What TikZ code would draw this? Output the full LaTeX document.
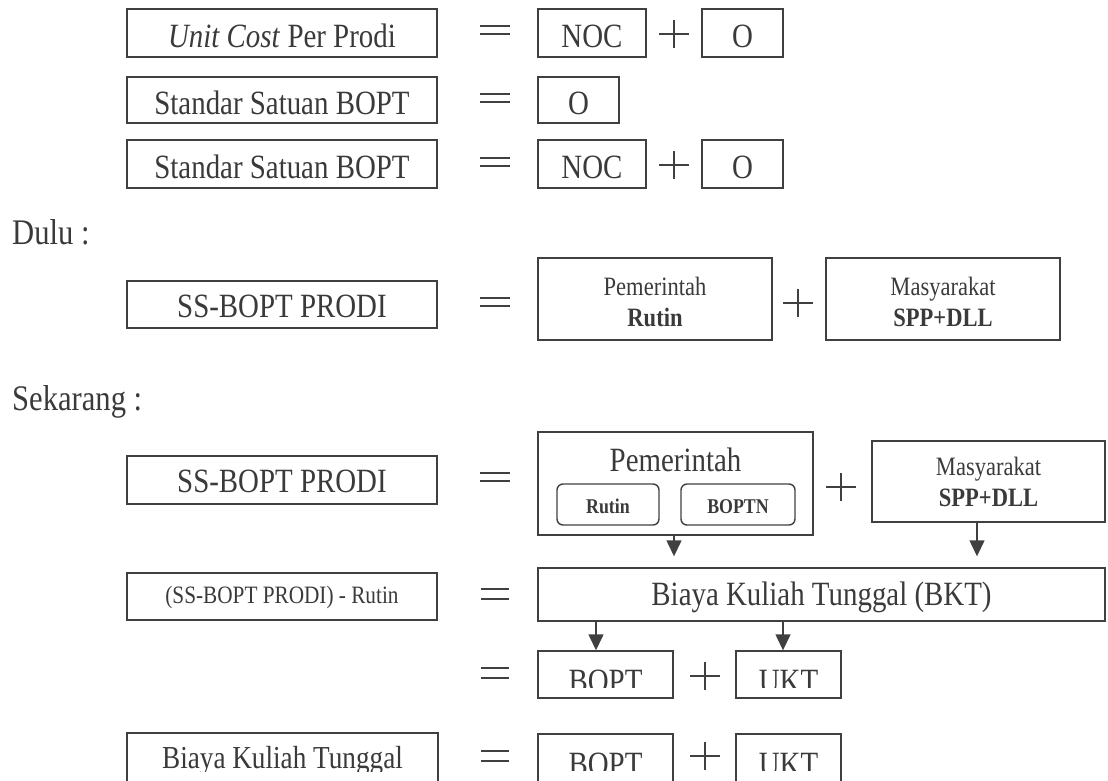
\documentclass[tikz,border=0pt]{standalone}
\usepackage{fontspec}
\setmainfont{Liberation Serif}[FakeStretch=0.85]
\usetikzlibrary{arrows.meta}
\definecolor{dk}{RGB}{64,64,64}
\definecolor{tc}{RGB}{58,58,58}
\newcommand\fbig{\fontsize{34}{38}\selectfont}
\newcommand\fbk{\fontsize{32}{36}\selectfont}
\newcommand\flab{\fontsize{36}{40}\selectfont}
\newcommand\fmid{\fontsize{25}{30}\selectfont}
\newcommand\fsml{\fontsize{26.5}{30}\selectfont}
\newcommand\ftiny{\fontsize{21}{24}\selectfont}
\tikzset{
  bx/.style={draw=dk, line width=1.4pt, inner sep=0pt, text=tc, font=\fbig, text height=28.5pt, text depth=0pt},
  rbx/.style={bx, rounded corners=6pt, font=\ftiny\bfseries, text height=18.9pt},
  lbl/.style={text=tc, inner sep=0pt, anchor=base},
  op/.style={draw=dk, line width=1.1pt},
  arr/.style={draw=dk, line width=1.4pt, -{Triangle[width=15pt,length=16pt]}},
  eqs/.pic={\draw[op] (-15,-4) -- (15,-4) (-15,4) -- (15,4);},
  eqw/.pic={\draw[op] (-14,-5) -- (14,-5) (-14,5) -- (14,5);},
  pls/.pic={\draw[op] (-15,0) -- (15,0) (0,-14) -- (0,14);}
}
\begin{document}
\begin{tikzpicture}[x=1pt, y=-1pt]
\useasboundingbox (0,0) rectangle (1108,781);
\clip (0,0) rectangle (1108,781);

% Row 1
\node[bx, minimum width=310pt, minimum height=48pt] (uc) at (282,33) {\textit{Unit Cost} Per Prodi};
\pic at (495,30) {eqs};
\node[bx, minimum width=108pt, minimum height=48pt] (noc1) at (592,33) {NOC};
\pic at (674,34) {pls};
\node[bx, minimum width=81pt, minimum height=48pt] (o1) at (742.5,33) {O};

% Row 2
\node[bx, minimum width=310pt, minimum height=46pt] (ss1) at (282,100) {Standar Satuan BOPT};
\pic at (495,98) {eqs};
\node[bx, minimum width=81pt, minimum height=46pt] (o2) at (578.5,100) {O};

% Row 3
\node[bx, minimum width=310pt, minimum height=48pt] (ss2) at (282,164) {Standar Satuan BOPT};
\pic at (495,162) {eqs};
\node[bx, minimum width=108pt, minimum height=48pt] (noc3) at (592,164) {NOC};
\pic at (674,165) {pls};
\node[bx, minimum width=81pt, minimum height=48pt] (o3) at (742.5,164) {O};

% Dulu
\node[lbl, font=\flab, anchor=base west] (dulu) at (12,244.5) {Dulu :};
\node[bx, text height=25.5pt, minimum width=310pt, minimum height=47pt] (sb1) at (282,304.5) {SS-BOPT PRODI};
\pic at (495,302) {eqs};
\node[bx, minimum width=234pt, minimum height=82pt] (pem1) at (655,299) {};
\node[lbl, font=\fsml] (pem1a) at (655,295) {Pemerintah};
\node[lbl, font=\fsml\bfseries] (pem1b) at (655,326) {Rutin};
\pic at (798,303) {pls};
\node[bx, minimum width=234pt, minimum height=82pt] (mas1) at (943,299) {};
\node[lbl, font=\fsml] (mas1a) at (943,295) {Masyarakat};
\node[lbl, font=\fsml\bfseries] (mas1b) at (943,326) {SPP+DLL};

% Sekarang
\node[lbl, font=\flab, anchor=base west] (sek) at (12,410) {Sekarang :};
\node[bx, text height=25.5pt, minimum width=310pt, minimum height=48pt] (sb2) at (282,480) {SS-BOPT PRODI};
\pic at (495,477) {eqs};
\node[bx, minimum width=275pt, minimum height=103pt] (pem2) at (675.5,483.5) {};
\node[lbl, font=\fbig] (pem2a) at (675.5,471) {Pemerintah};
\node[rbx, minimum width=102pt, minimum height=41pt] (rut) at (608,504.5) {Rutin};
\node[rbx, minimum width=114pt, minimum height=41pt] (boptn) at (738,504.5) {BOPTN};
\pic at (841,487) {pls};
\node[bx, minimum width=233pt, minimum height=81pt] (mas2) at (988.5,481.5) {};
\node[lbl, font=\fsml] (mas2a) at (988.5,475) {Masyarakat};
\node[lbl, font=\fsml\bfseries] (mas2b) at (988.5,506) {SPP+DLL};

% (SS-BOPT PRODI) - Rutin row
\node[bx, font=\fmid, text height=14.7pt, minimum width=310pt, minimum height=47pt] (sbr) at (282,596.5) {(SS-BOPT PRODI) - Rutin};
\pic at (495,594) {eqw};
\node[bx, text height=21.5pt, minimum width=567pt, minimum height=53pt] (bkt) at (821.5,594.5) {Biaya Kuliah Tunggal (BKT)};

% BOPT + UKT row (text cut off at its lower part, as in the source)
\pic at (495,673) {eqw};
\node[bx, minimum width=135pt, minimum height=47pt] (bopt1) at (605.5,674.5) {};
\begin{scope}
  \clip (bopt1.north west) rectangle ([yshift=-37pt]bopt1.north east);
  \node[lbl, font=\fbig] (bopt1t) at (605.5,692.5) {BOPT};
\end{scope}
\pic at (705,676) {pls};
\node[bx, minimum width=105pt, minimum height=47pt] (ukt1) at (788.5,674.5) {};
\begin{scope}
  \clip (ukt1.north west) rectangle ([yshift=-37pt]ukt1.north east);
  \node[lbl, font=\fbig] (ukt1t) at (788.5,692.5) {UKT};
\end{scope}

% Bottom row
\node[bx, minimum width=311pt, minimum height=50pt] (bkt2) at (282.5,758) {};
\begin{scope}
  \clip (bkt2.north west) rectangle ([yshift=-39pt]bkt2.north east);
  \node[lbl, font=\fbk] (bkt2t) at (282.5,768) {Biaya Kuliah Tunggal};
\end{scope}
\pic at (495,756) {eqw};
\node[bx, minimum width=135pt, minimum height=50pt] (bopt2) at (605.5,759) {};
\begin{scope}
  \clip (bopt2.north west) rectangle ([yshift=-37pt]bopt2.north east);
  \node[lbl, font=\fbig] (bopt2t) at (605.5,775.5) {BOPT};
\end{scope}
\pic at (705,756) {pls};
\node[bx, minimum width=105pt, minimum height=50pt] (ukt2) at (788.5,759) {};
\begin{scope}
  \clip (ukt2.north west) rectangle ([yshift=-37pt]ukt2.north east);
  \node[lbl, font=\fbig] (ukt2t) at (788.5,775.5) {UKT};
\end{scope}

% arrows
\coordinate (xa) at (674,0);
\coordinate (xb) at (977,0);
\coordinate (xc) at (596,0);
\coordinate (xd) at (783,0);
\draw[arr, shorten >=11pt] (xa |- pem2.south) -- (xa |- bkt.north);
\draw[arr, shorten >=11pt] (xb |- mas2.south) -- (xb |- bkt.north);
\draw[arr] (xc |- bkt.south) -- (xc |- bopt1.north);
\draw[arr] (xd |- bkt.south) -- (xd |- ukt1.north);
\end{tikzpicture}
\end{document}
